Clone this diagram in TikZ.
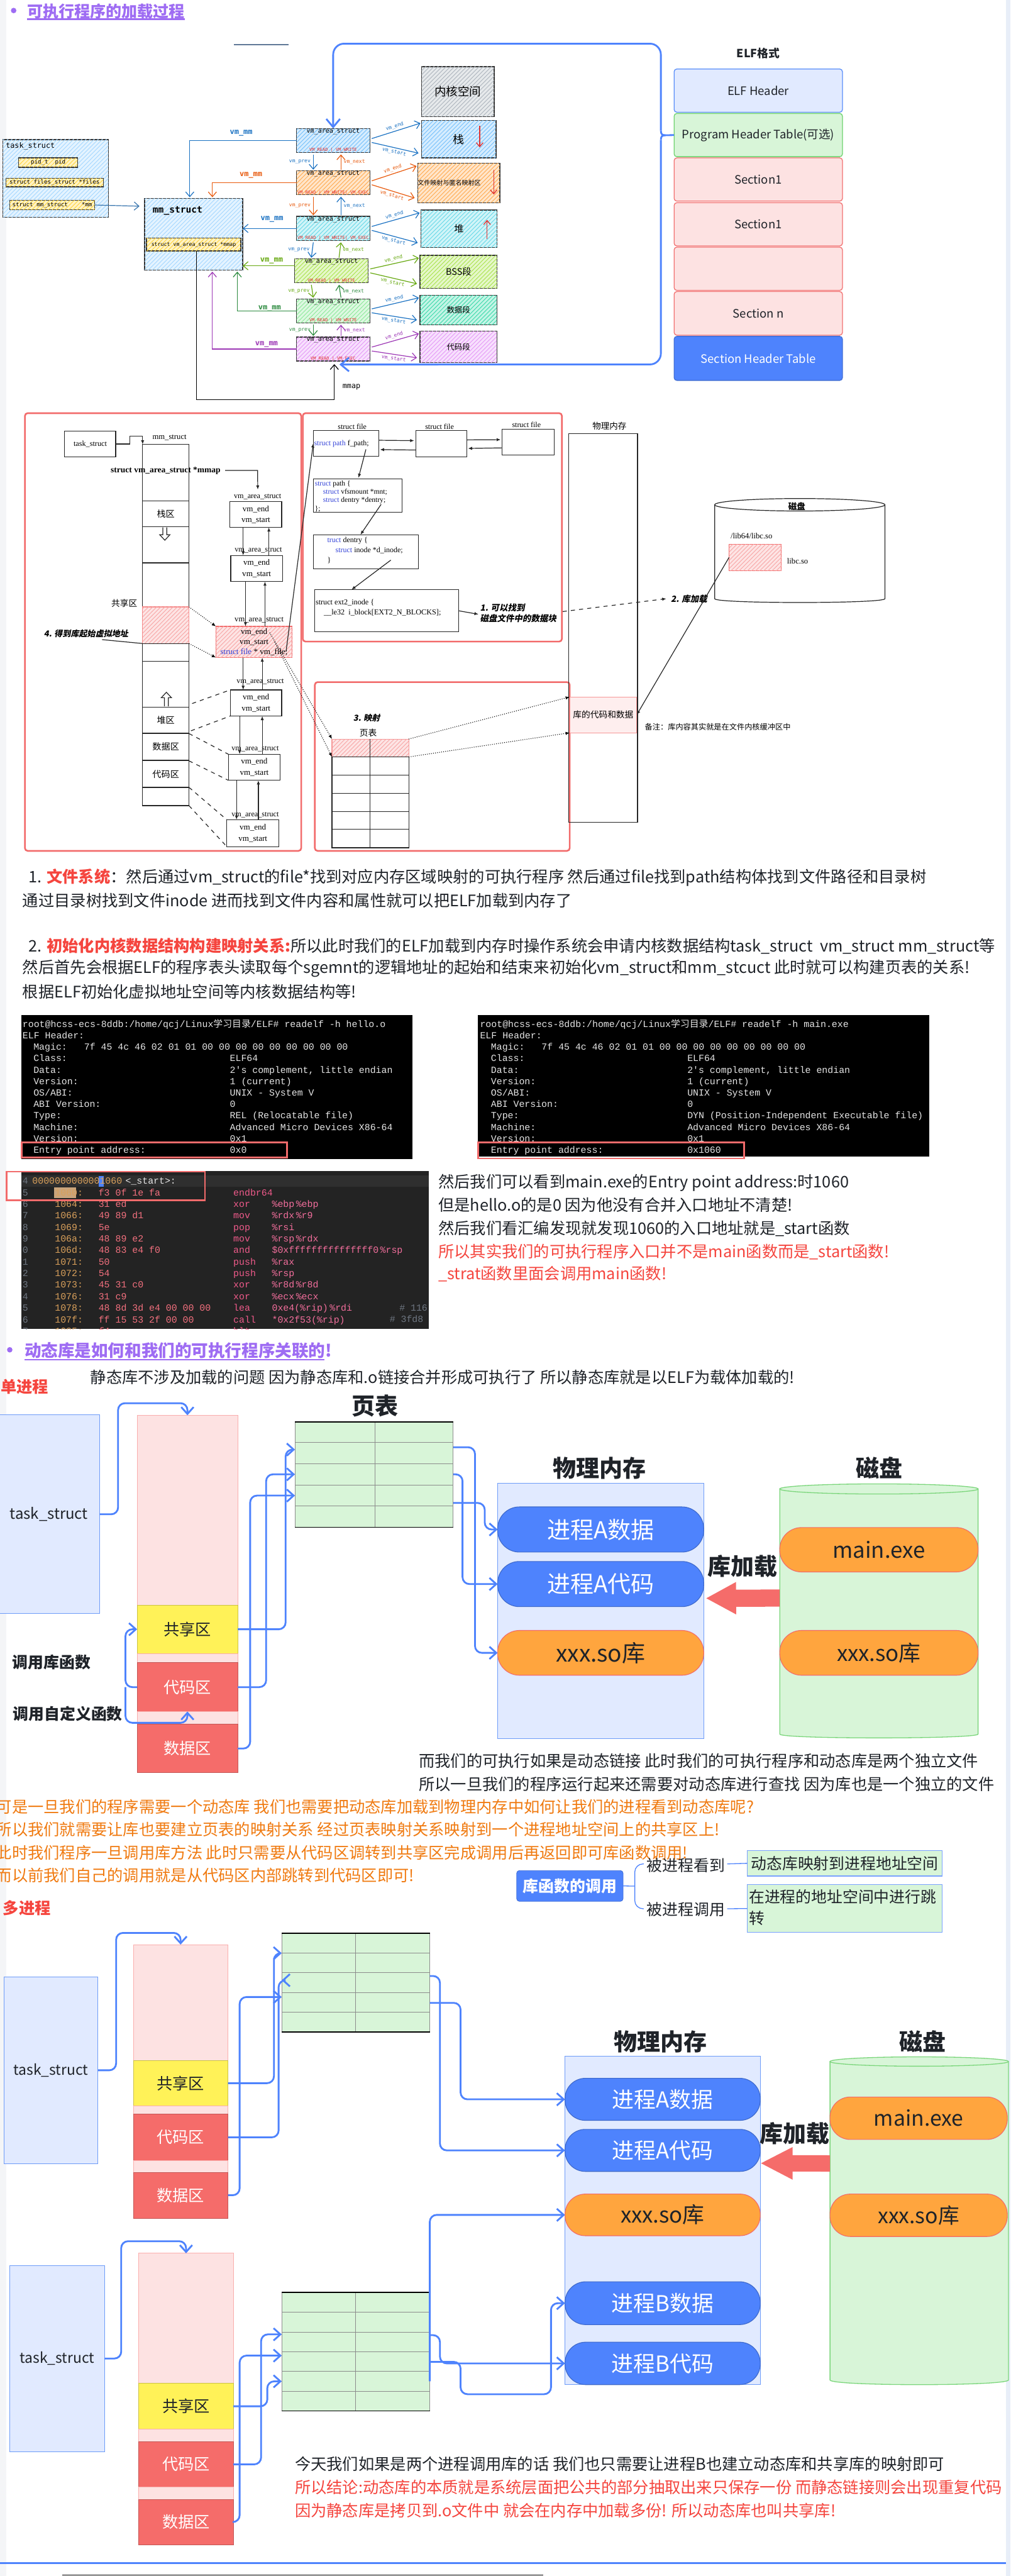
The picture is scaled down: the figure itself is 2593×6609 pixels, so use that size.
\documentclass[tikz,border=0pt]{standalone}
\usepackage{fontspec}
\setmainfont{Noto Sans CJK SC}
\newfontfamily\cjk{Noto Sans CJK SC}
\newfontfamily\cjksl[FakeSlant=0.18]{Noto Sans CJK SC}
\newfontfamily\xmono{DejaVu Sans Mono}
\newfontfamily\tmono{Liberation Mono}
\newfontfamily\hser{Liberation Serif}
\usetikzlibrary{arrows.meta,patterns,calc}
\newcommand\fs[2]{\fontsize{#1}{#2}\selectfont}
\newcommand\mybox[7]{\node[align=center,#6, minimum width={(#4-#2)*0.1mm}, minimum height={(#5-#3)*0.1mm}, inner sep=0pt, outer sep=0pt] (#1) at ({(#2+#4)/2},{(#3+#5)/2}) {#7};}
\definecolor{tpurple}{HTML}{9E6CF3}
\definecolor{lblue}{HTML}{4E83FD}
\definecolor{rframe}{HTML}{F26B6B}
\definecolor{cardbg}{HTML}{E1EAFF}
\definecolor{cardbd}{HTML}{6E9CF8}
\definecolor{pinkbg}{HTML}{FDE2E2}
\definecolor{redbg}{HTML}{F56C6A}
\definecolor{yelbg}{HTML}{FFF258}
\definecolor{grnbg}{HTML}{D8F5D8}
\definecolor{grnbd}{HTML}{7CD67C}
\definecolor{orgbg}{HTML}{FFA53E}
\definecolor{orgtx}{HTML}{F07A10}
\definecolor{redtx}{HTML}{F5453E}
\definecolor{txt}{HTML}{1F2329}
\definecolor{exblue}{HTML}{1971C2}
\definecolor{exorange}{HTML}{E8590C}
\definecolor{exgreen}{HTML}{66A80F}
\definecolor{exteal}{HTML}{2B8A3E}
\definecolor{expurple}{HTML}{9C36B5}
\definecolor{exred}{HTML}{E03131}
\definecolor{fblue}{HTML}{74C0FC}
\definecolor{fblue2}{HTML}{A5D8FF}
\definecolor{forange}{HTML}{FFA94D}
\definecolor{fcyan}{HTML}{66D9E8}
\definecolor{flime}{HTML}{A9E34B}
\definecolor{fgreen}{HTML}{8CE99A}
\definecolor{fteal}{HTML}{38D9A9}
\definecolor{fpink}{HTML}{E599F7}
\definecolor{fgray}{HTML}{ADB5BD}
\definecolor{fyel}{HTML}{FFD43B}
\definecolor{fpinkh}{HTML}{F8A5A5}
\definecolor{elfbg}{HTML}{E1EAFF}
\definecolor{elfbd}{HTML}{5B8FF9}
\definecolor{phtbg}{HTML}{D8F5D8}
\definecolor{phtbd}{HTML}{6FD36F}
\definecolor{secbg}{HTML}{FDE2E2}
\definecolor{secbd}{HTML}{F27272}
\definecolor{sblue}{HTML}{3443D8}
\definecolor{termfg}{HTML}{E6E6E6}
\definecolor{disbg}{HTML}{232323}
\definecolor{dishl}{HTML}{2F2F2F}
\definecolor{dgray}{HTML}{6E7681}
\definecolor{daddr}{HTML}{D9A05B}
\definecolor{dbyte}{HTML}{F2707E}
\definecolor{dmnem}{HTML}{EE5A8A}
\definecolor{dop}{HTML}{F26E9C}
\definecolor{tanhl}{HTML}{C9A47C}
\definecolor{pagegray}{HTML}{F4F5F7}
\definecolor{pageblue}{HTML}{E8EEF8}
\definecolor{steel}{HTML}{5F7896}
\newcommand\tline[3]{\node[anchor=base west, font=\tmono\fs{6.83}{8}, text=termfg] at (#1,#2) {#3};}
\newcommand\dl[4]{\node[anchor=base west, font=\tmono\fs{6.83}{8}, text=#3] at (#1,#2) {#4};}
\begin{document}
\begin{tikzpicture}[x=0.1mm,y=-0.1mm,
 every node/.style={inner sep=0pt, outer sep=0pt},
 hatch/.style={fill=#1!30, postaction={pattern=north east lines, pattern color=#1}},
 exbox/.style={draw=black!80, line width=0.6pt},
 exl/.style={line width=0.55pt},
 exarr/.style={-{Straight Barb[length=3.5pt,width=6pt]}},
 sk/.style={draw=black!85, line width=0.55pt},
 smarr/.style={-{Latex[length=3pt,width=2.4pt]}},
 card/.style={draw=cardbd, fill=cardbg, line width=0.5pt},
 blc/.style={draw=lblue, line width=1.3pt, rounded corners=5pt, -{Straight Barb[length=5pt,width=9pt]}},
 body/.style={anchor=west, font=\fs{11.6}{14}, text=txt},
 ptr/.style={fill=grnbg, draw=black!45, line width=0.4pt},
 colp/.style={fill=pinkbg, draw=redbg!55, line width=0.4pt},
 colr/.style={fill=redbg, draw=redbg!80!black, line width=0.4pt, text=white, font=\fs{11.6}{14}},
 coly/.style={fill=yelbg, draw=yelbg!80!black, line width=0.4pt, text=txt, font=\fs{11.6}{14}},
 stadb/.style={fill=lblue, draw=lblue!80!black, line width=0.5pt, text=white},
 stado/.style={fill=orgbg, draw=rframe, line width=0.5pt, text=txt},
 bigt/.style={font=\bfseries\fs{17}{20}, text=txt}
]
\useasboundingbox (0,0) rectangle (2593,6609);
\fill[white] (0,0) rectangle (2593,6609);
\fill[pagegray] (0,0) rectangle (16,6609);
\fill[pageblue] (2582,0) rectangle (2593,6609);

%%%%%%%%%%%%%%%% SECTION 1
\fill[tpurple] (35,27) circle[radius=7];
\node[anchor=west, text=tpurple, font=\bfseries\fs{11.5}{13}] (h1) at (70,29) {可执行程序的加载过程};
\draw[tpurple, line width=1.1pt] (70,49) -- (474,49);
\draw[steel, line width=0.8pt] (601,115) -- (740,115);

% ELF
\node[font=\bfseries\fs{8.2}{10}, text=txt] (elft) at (1946,137) {ELF格式};
\mybox{elf0}{1730}{177}{2162}{288}{draw=elfbd, fill=elfbg, rounded corners=2pt, line width=0.6pt, font=\fs{8.5}{10}, text=txt}{ELF Header}
\mybox{elf1}{1730}{291}{2162}{402}{draw=phtbd, fill=phtbg, rounded corners=2pt, line width=0.6pt, font=\fs{8.5}{10}, text=txt}{Program Header Table(可选)}
\mybox{elf2}{1730}{405}{2162}{516}{draw=secbd, fill=secbg, rounded corners=2pt, line width=0.6pt, font=\fs{8.5}{10}, text=txt}{Section1}
\mybox{elf3}{1730}{520}{2162}{631}{draw=secbd, fill=secbg, rounded corners=2pt, line width=0.6pt, font=\fs{8.5}{10}, text=txt}{Section1}
\mybox{elf4}{1730}{634}{2162}{745}{draw=secbd, fill=secbg, rounded corners=2pt, line width=0.6pt}{}
\mybox{elf5}{1730}{748}{2162}{860}{draw=secbd, fill=secbg, rounded corners=2pt, line width=0.6pt, font=\fs{8.5}{10}, text=txt}{Section n}
\mybox{elf6}{1730}{863}{2162}{976}{draw=lblue!85!black, fill=lblue, rounded corners=2pt, line width=0.6pt, font=\fs{8.5}{10}, text=white}{Section Header Table}

% task_struct
\mybox{tsk}{7}{358}{278}{557}{exbox, hatch=fblue2}{}
\node[anchor=west, font=\xmono\fs{5.4}{6}] (tskt) at (15,375) {task\_struct};
\mybox{tpid}{48}{405}{199}{429}{exbox, hatch=fyel, font=\xmono\fs{4.2}{5}}{pid\_t\ \ pid}
\mybox{tfil}{15}{457}{265}{479}{exbox, hatch=fyel, font=\xmono\fs{4.2}{5}}{struct files\_struct *files}
\mybox{tmm}{25}{514}{243}{538}{exbox, hatch=fyel, font=\xmono\fs{4.2}{5}}{struct mm\_struct\ \ \ \ *mm}
% mm_struct
\mybox{mmS}{371}{509}{623}{693}{exbox, hatch=fblue2}{}
\node[anchor=west, font=\xmono\bfseries\fs{6.7}{7}] (mmt) at (392,541) {mm\_struct};
\mybox{mmp}{376}{611}{618}{644}{exbox, hatch=fyel, font=\xmono\fs{3.8}{4.5}}{struct vm\_area\_struct *mmap}
\draw[exblue!70!gray, exl, exarr] (tmm.east) -- ($(mmS.north west)+(-13,20)$);

% vm_area boxes
\newcommand\vmt[1]{{\xmono\fs{4.6}{6}vm\_area\_struct}\\[1.5pt]{\xmono\fs{3.2}{4}\color{exred}#1}}
\mybox{va1}{761}{331}{949}{390}{exbox, hatch=fblue}{\vmt{VM\_READ | VM\_WRITE}}
\mybox{va2}{761}{439}{949}{499}{exbox, hatch=forange}{\vmt{VM\_READ | VM\_WRITE| VM\_EXEC}}
\mybox{va3}{761}{556}{949}{616}{exbox, hatch=fcyan}{\vmt{VM\_READ | VM\_WRITE| VM\_EXEC}}
\mybox{va4}{756}{665}{945}{725}{exbox, hatch=flime}{\vmt{VM\_READ | VM\_WRITE}}
\mybox{va5}{761}{768}{949}{827}{exbox, hatch=fgreen}{\vmt{VM\_READ | VM\_WRITE}}
\mybox{va6}{761}{865}{949}{926}{exbox, hatch=fpink}{\vmt{VM\_READ | VM\_EXEC}}
% segments
\mybox{seg0}{1082}{171}{1268}{299}{exbox, hatch=fgray, font=\cjk\fs{8.5}{10}}{内核空间}
\mybox{seg1}{1082}{309}{1273}{405}{exbox, hatch=fblue, font=\cjk\fs{8.2}{10}}{栈}
\mybox{seg2}{1078}{419}{1277}{520}{exbox, hatch=forange, font=\cjk\fs{4.6}{6}}{文件映射与匿名映射区\hspace{14pt}}
\mybox{seg3}{1080}{539}{1276}{635}{exbox, hatch=fcyan, font=\cjk\fs{7}{8}}{堆}
\mybox{seg4}{1078}{655}{1276}{740}{exbox, hatch=flime, font=\cjk\fs{6.6}{8}}{BSS段}
\mybox{seg5}{1078}{757}{1275}{833}{exbox, hatch=fteal, font=\cjk\fs{5.7}{7}}{数据段}
\mybox{seg6}{1078}{849}{1275}{930}{exbox, hatch=fpink, font=\cjk\fs{5.7}{7}}{代码段}
\draw[exred, line width=0.6pt, -{Straight Barb[length=3pt,width=5pt]}] (1231,322) -- (1231,378);
\draw[exred, line width=0.6pt, -{Straight Barb[length=3pt,width=5pt]}] (1267,435) -- (1267,499);
\draw[exred, line width=0.6pt, -{Straight Barb[length=3pt,width=5pt]}] (1250,613) -- (1250,564);

\foreach \i/\c in {1/exblue,2/exorange,3/exblue,4/exgreen,5/exblue,6/expurple}{
 \draw[\c, exl, exarr] ($(va\i.east)+(5,-5)$) -- ($(seg\i.north west)+(-3,7)$) node[midway, sloped, above=1.5pt, font=\xmono\fs{3.7}{4}, text=\c] {vm\_end};
 \draw[\c, exl, exarr] ($(va\i.east)+(5,5)$) -- ($(seg\i.south west)+(-8,-12)$) node[midway, sloped, below=1.5pt, font=\xmono\fs{3.7}{4}, text=\c] {vm\_start};
}
\foreach \i/\j/\p/\n in {1/2/exblue/exorange,2/3/exorange/exblue,3/4/exblue/exgreen,4/5/exgreen/exteal,5/6/exteal/expurple}{
 \draw[\p, exl, exarr] ($(va\i.south west)+(43,5)$) -- ($(va\j.north west)+(43,-3)$) node[midway, left=2pt, font=\xmono\fs{3.7}{4}, text=\p] {vm\_prev};
 \draw[\n, exl, exarr] ($(va\j.north west)+(114,-3)$) -- ($(va\i.south west)+(114,5)$) node[midway, right=2pt, font=\xmono\fs{3.7}{4}, text=\n] {vm\_next};
}
% vm_mm
\draw[exblue, exl, exarr] (va1.west) -| ($(mmS.north west)+(116,-3)$);
\node[font=\xmono\bfseries\fs{5.5}{6}, text=exblue] (vmm1) at (619,342) {vm\_mm};
\draw[exorange, exl, exarr] (va2.west) -| ($(mmS.north west)+(174,-3)$);
\node[font=\xmono\bfseries\fs{5.5}{6}, text=exorange] (vmm2) at (644,449) {vm\_mm};
\draw[exblue, exl, exarr] (va3.west) -- (va3.west -| mmS.east);
\node[font=\xmono\bfseries\fs{5.5}{6}, text=exblue] (vmm3) at (698,563) {vm\_mm};
\coordinate (v4w) at ($(va4.west)+(0,-13)$);
\draw[exgreen, exl, exarr] (v4w) -- (v4w -| mmS.east);
\node[font=\xmono\bfseries\fs{5.5}{6}, text=exgreen] (vmm4) at (697,669) {vm\_mm};
\draw[exteal, exl, exarr] (va5.west) -| ($(mmS.south west)+(238,4)$);
\node[font=\xmono\bfseries\fs{5.5}{6}, text=exteal] (vmm5) at (692,791) {vm\_mm};
\draw[expurple, exl, exarr] (va6.west) -| ($(mmS.south west)+(174,4)$);
\node[font=\xmono\bfseries\fs{5.5}{6}, text=expurple] (vmm6) at (684,884) {vm\_mm};
% mmap
\draw[black, exl, exarr] ($(mmp.south)+(7,0)$) |- ($(va6.south)+(3,99)$) -- ($(va6.south)+(3,8)$);
\node[font=\xmono\fs{5.4}{6}] (mmapl) at (902,993) {mmap};
% big blue bracket
\draw[lblue, line width=1.3pt, rounded corners=8pt, -{Straight Barb[length=6pt,width=10pt]}] (1696,335) -- (1696,112) -- (855,112) -- (va1.north);
\draw[lblue, line width=1.3pt, rounded corners=8pt, -{Straight Barb[length=6pt,width=10pt]}] (1696,359) -- (1696,935) -- ($(va6.south)+(16,9)$);
\draw[lblue, line width=1.3pt] (1696,335) .. controls (1696,344) and (1699,347) .. (1708,347) -- (elf1.west);
\draw[lblue, line width=1.3pt] (1696,359) .. controls (1696,350) and (1699,347) .. (1708,347);

%%%%%%%%%%%%%%%% SECTION 2
\draw[rframe, line width=1.2pt, rounded corners=2pt] (64,1060) rectangle (773,2183);
\draw[rframe, line width=1.2pt, rounded corners=2pt] (777,1060) rectangle (1442,1646);
\draw[rframe, line width=1.2pt, rounded corners=2pt] (808,1750) rectangle (1462,2183);

\mybox{tsk2}{166}{1106}{297}{1172}{sk, font=\hser\fs{5.6}{6}}{task\_struct}
\node[font=\hser\fs{5.8}{7}] (mml) at (435,1123) {mm\_struct};
\mybox{col0}{366}{1140}{485}{1285}{sk}{}
\mybox{col1}{366}{1285}{485}{1351}{sk, font=\cjk\fs{6.5}{7}}{栈区}
\mybox{col2}{366}{1351}{485}{1444}{sk}{}
\mybox{col3}{366}{1444}{485}{1557}{sk}{}
\mybox{col4}{366}{1557}{485}{1651}{draw=rframe!80, line width=0.5pt, hatch=fpinkh}{}
\mybox{col5}{366}{1651}{485}{1696}{sk}{}
\mybox{col6}{366}{1696}{485}{1814}{sk}{}
\mybox{col7}{366}{1814}{485}{1880}{sk, font=\cjk\fs{6.5}{7}}{堆区}
\mybox{col8}{366}{1882}{485}{1950}{sk, font=\cjk\fs{6.5}{7}}{数据区}
\mybox{col9}{366}{1952}{485}{2020}{sk, font=\cjk\fs{6.5}{7}}{代码区}
\mybox{col10}{366}{2020}{485}{2067}{sk}{}
\draw[sk, smarr] (tsk2.east) -- (333,1139) -- (333,1119) -- (366,1119) -- (col0.north west);
\node[font=\bfseries\hser\fs{6.2}{7}] (mmtxt) at (425,1207) {struct vm\_area\_struct *mmap};
\draw[sk, fill=white] (418,1353) -- (418,1372) -- (410,1372) -- (423,1386) -- (436,1372) -- (428,1372) -- (428,1353);
\draw[sk, fill=white] (422,1812) -- (422,1790) -- (414,1790) -- (427,1776) -- (440,1790) -- (432,1790) -- (432,1812);
\node[font=\cjk\fs{6.3}{7}] (gxq) at (319,1548) {共享区};
\node[font=\cjksl\bfseries\fs{6}{7}] (lbl4) at (221,1626) {4. 得到库起始虚拟地址};
\coordinate (l4s) at (262,1641);
\draw[sk] (l4s) -- (col4.south west);

\mybox{vb1}{590}{1287}{723}{1353}{sk, font=\hser\fs{6}{8}}{vm\_end\\vm\_start}
\mybox{vb2}{592}{1425}{725}{1492}{sk, font=\hser\fs{6}{8}}{vm\_end\\vm\_start}
\mybox{vb3}{554}{1607}{750}{1687}{draw=rframe, line width=0.6pt, hatch=fpinkh, font=\hser\fs{6}{7.4}}{vm\_end\\vm\_start\\{\color{sblue}struct file} * vm\_file;}
\mybox{vb4}{591}{1770}{723}{1837}{sk, font=\hser\fs{6}{8}}{vm\_end\\vm\_start}
\mybox{vb5}{586}{1935}{719}{2002}{sk, font=\hser\fs{6}{8}}{vm\_end\\vm\_start}
\mybox{vb6}{582}{2103}{716}{2172}{sk, font=\hser\fs{6}{8}}{vm\_end\\vm\_start}
\node[font=\hser\fs{5.6}{6}] (vl1) at (661,1274) {vm\_area\_struct};
\node[font=\hser\fs{5.6}{6}] (vl2) at (663,1412) {vm\_area\_struct};
\node[font=\hser\fs{5.8}{6}] (vl3) at (665,1591) {vm\_area\_struct};
\node[font=\hser\fs{5.6}{6}] (vl4) at (668,1749) {vm\_area\_struct};
\node[font=\hser\fs{5.6}{6}] (vl5) at (655,1921) {vm\_area\_struct};
\node[font=\hser\fs{5.6}{6}] (vl6) at (655,2091) {vm\_area\_struct};
\draw[sk, smarr] (mmtxt.east) ++(12,0) coordinate (mmo) -- (661,1207) -- ($(vb1.north)+(5,-31)$);
\draw[sk, smarr] ($(vb1.south west)+(34,0)$) -- ($(vb2.north west)+(32,0)$);
\draw[sk, smarr] ($(vb2.north west)+(98,0)$) -- ($(vb1.south west)+(100,0)$);
\draw[sk, smarr] ($(vb2.south west)+(38,0)$) -- ($(vb3.north west)+(76,0)$);
\draw[sk, smarr] ($(vb3.north west)+(126,0)$) -- ($(vb2.south west)+(88,0)$);
\draw[sk, smarr] ($(vb3.south west)+(70,0)$) -- ($(vb4.north west)+(33,0)$);
\draw[sk, smarr] ($(vb4.north west)+(82,0)$) -- ($(vb3.south west)+(119,0)$);
\draw[sk, smarr] ($(vb4.south west)+(24,0)$) -- ($(vb5.north west)+(29,0)$);
\draw[sk, smarr] ($(vb5.north west)+(87,0)$) -- ($(vb4.south west)+(82,0)$);
\draw[sk, smarr] ($(vb5.south west)+(21,0)$) -- ($(vb6.north west)+(25,0)$);
\draw[sk, smarr] ($(vb6.north west)+(81,0)$) -- ($(vb5.south west)+(77,0)$);
\draw[black, line width=0.5pt, densely dotted, smarr] (col4.north east) -- (vb3.north west);
\draw[black, line width=0.5pt, densely dotted, smarr] (col4.south east) -- (vb3.south west);
\draw[sk, dashed] ($(col7.north east)+(8,-9)$) -- (vb4.north west);
\draw[sk, dashed] ($(col7.south east)+(5,-5)$) -- (vb4.south west);
\draw[sk, dashed] (col8.north east) -- (vb5.north west);
\draw[sk, dashed] (col9.north east) -- (vb5.south west);
\draw[sk, dashed] (col10.north east) -- (vb6.north west);
\draw[sk, dashed] (col10.south east) -- (vb6.south west);

% struct file chain
\mybox{sf1}{804}{1105}{972}{1170}{sk}{}
\mybox{sf2}{1067}{1105}{1198}{1172}{sk}{}
\mybox{sf3}{1289}{1101}{1422}{1167}{sk}{}
\node[font=\hser\fs{5.5}{6}] (sfl1) at (904,1094) {struct file};
\node[font=\hser\fs{5.5}{6}] (sfl2) at (1128,1094) {struct file};
\node[font=\hser\fs{5.5}{6}] (sfl3) at (1351,1090) {struct file};
\node[anchor=west, font=\hser\fs{5.5}{6}] (fpath) at (806,1138) {{\color{sblue}struct path} f\_path;};
\draw[sk, smarr] ($(sf1.east)+(0,-8)$) -- ($(sf2.west)+(-4,-8)$);
\draw[sk, smarr] ($(sf2.west)+(0,16)$) -- ($(sf1.east)+(3,16)$);
\draw[sk, smarr] ($(sf2.east)+(0,-10)$) -- ($(sf3.west)+(-4,-6)$);
\draw[sk, smarr] ($(sf3.west)+(0,15)$) -- ($(sf2.east)+(3,12)$);
\mybox{spath}{804}{1229}{1032}{1314}{sk}{}
\node[anchor=north west, align=left, font=\hser\fs{5.3}{6}] (spt) at (808,1234) {{\color{sblue}struct} path \{\\\hspace*{6pt}{\color{sblue}struct} vfsmount *mnt;\\\hspace*{6pt}{\color{sblue}struct} dentry *dentry;\\\};};
\draw[sk, smarr] (939,1153) -- ($(spath.north)+(2,-3)$);
\mybox{dent}{804}{1372}{1074}{1459}{sk}{}
\node[anchor=north west, align=left, font=\hser\fs{5.5}{7.3}] (dtt) at (840,1378) {{\color{sblue}truct} dentry \{\\\hspace*{6pt}{\color{sblue}struct} inode *d\_inode;\\\}};
\draw[sk, smarr] ($(spath.south)+(60,-20)$) -- ($(dent.north)+(-14,0)$);
\mybox{ext2}{807}{1513}{1177}{1621}{sk}{}
\node[anchor=north west, align=left, font=\hser\fs{5.6}{7.5}] (ext) at (810,1537) {struct ext2\_inode \{\\\hspace*{6pt}\_\_le32\ \ i\_block[EXT2\_N\_BLOCKS];};
\draw[sk, smarr] ($(dent.south)+(64,-22)$) -- ($(ext2.north)+(-90,0)$);
\node[anchor=west, align=left, font=\cjksl\bfseries\fs{6.2}{7.6}] (lbl1) at (1232,1573) {1. 可以找到\\磁盘文件中的数据块};
\draw[sk, smarr] (ext2.east) -- ($(lbl1.west)+(-4,3)$);
\node[anchor=west, font=\cjksl\bfseries\fs{6.2}{7}] (lbl2) at (1722,1536) {2. 库加载};
\draw[sk, dashed, smarr] ($(lbl1.east)+(16,-4)$) -- ($(lbl2.west)+(-12,0)$);

% physical memory column
\mybox{pm}{1459}{1113}{1636}{2110}{sk}{}
\node[font=\cjk\fs{6.2}{7}] (pml) at (1564,1093) {物理内存};
\mybox{lib}{1462}{1788}{1634}{1880}{draw=rframe!70, fill=pinkbg!60, line width=0.5pt, font=\cjk\fs{6.3}{7}}{库的代码和数据}
\node[anchor=west, font=\cjk\fs{5.6}{7}] (note) at (1655,1865) {备注：库内容其实就是在文件内核缓冲区中};
% disk
\draw[sk, fill=white] (1834,1295) -- (1834,1536) .. controls (1834,1549) and (2271,1549) .. (2271,1536) -- (2271,1295);
\draw[sk] (2052.5,1295) ellipse [x radius=218.5, y radius=16];
\node[font=\cjk\bfseries\fs{6.2}{7}] (dkl) at (2045,1300) {磁盘};
\node[anchor=west, font=\hser\fs{5.8}{7}] (libp) at (1875,1375) {/lib64/libc.so};
\mybox{libso}{1871}{1396}{2005}{1464}{draw=rframe, line width=0.5pt, hatch=fpinkh}{}
\node[anchor=west, font=\hser\fs{5.8}{7}] (libn) at (2020,1439) {libc.so};
\draw[sk, smarr] (libso.west) -- (lib.east);
% page table (3)
\node[font=\cjksl\bfseries\fs{6}{7}] (l3) at (941,1842) {3. 映射};
\node[font=\cjk\fs{6.3}{7}] (ptl) at (945,1881) {页表};
\mybox{g1}{852}{1896}{1049}{1942}{draw=rframe!70, line width=0.5pt, hatch=fpinkh}{}
\mybox{g2}{852}{1942}{1049}{1989}{sk}{}
\mybox{g3}{852}{1989}{1049}{2035}{sk}{}
\mybox{g4}{852}{2035}{1049}{2082}{sk}{}
\mybox{g5}{852}{2082}{1049}{2128}{sk}{}
\mybox{g6}{852}{2128}{1049}{2175}{sk}{}
\draw[sk] (949,1896) -- (949,2175);
\draw[black, line width=0.5pt, densely dotted, smarr] ($(vb3.north)+(40,16)$) -- (g1.north west);
\draw[black, line width=0.5pt, densely dotted, smarr] ($(vb3.north)+(53,40)$) -- (g1.south west);
\draw[black, line width=0.5pt, densely dotted, smarr] (g1.north east) -- (lib.north west);
\draw[black, line width=0.5pt, densely dotted, smarr] (g1.south east) -- (lib.south west);
\draw[sk, smarr] ($(vb3.south east)+(-16,-15)$) -- (sf1.west);

%%%%%%%%%%%%%%%% SECTION 3 text
\node[body] (p1) at (74,2252) {1. {\bfseries\color{redtx}文件系统}：然后通过vm\_struct的file*找到对应内存区域映射的可执行程序 然后通过file找到path结构体找到文件路径和目录树};
\node[body] (p2) at (58,2310) {通过目录树找到文件inode 进而找到文件内容和属性就可以把ELF加载到内存了};
\node[body] (p3) at (74,2427) {2. {\bfseries\color{redtx}初始化内核数据结构构建映射关系:}所以此时我们的ELF加载到内存时操作系统会申请内核数据结构task\_struct\ \ vm\_struct mm\_struct等};
\node[body] (p4) at (58,2485) {然后首先会根据ELF的程序表头读取每个sgemnt的逻辑地址的起始和结束来初始化vm\_struct和mm\_stcuct 此时就可以构建页表的关系!};
\node[body] (p5) at (58,2545) {根据ELF初始化虚拟地址空间等内核数据结构等!};

% terminals
\fill[black] (55,2604) rectangle (1058,2973);
\fill[black] (1227,2604) rectangle (2385,2968);
\tline{58}{2636}{root@hcss-ecs-8ddb:/home/qcj/Linux{\cjk 学习目录}/ELF\# readelf -h hello.o}
\tline{58}{2665}{ELF Header:}
\tline{86}{2694}{Magic:}
\tline{216}{2694}{7f 45 4c 46 02 01 01 00 00 00 00 00 00 00 00 00}
\tline{86}{2723}{Class:}\tline{590}{2723}{ELF64}
\tline{86}{2753}{Data:}\tline{590}{2753}{2's complement, little endian}
\tline{86}{2782}{Version:}\tline{590}{2782}{1 (current)}
\tline{86}{2812}{OS/ABI:}\tline{590}{2812}{UNIX - System V}
\tline{86}{2841}{ABI Version:}\tline{590}{2841}{0}
\tline{86}{2870}{Type:}\tline{590}{2870}{REL (Relocatable file)}
\tline{86}{2900}{Machine:}\tline{590}{2900}{Advanced Micro Devices X86-64}
\tline{86}{2929}{Version:}\tline{590}{2929}{0x1}
\tline{86}{2959}{Entry point address:}\tline{590}{2959}{0x0}
\draw[rframe, line width=1.3pt] (55,2931) rectangle (736,2970);
\tline{1232}{2636}{root@hcss-ecs-8ddb:/home/qcj/Linux{\cjk 学习目录}/ELF\# readelf -h main.exe}
\tline{1232}{2665}{ELF Header:}
\tline{1260}{2694}{Magic:}
\tline{1390}{2694}{7f 45 4c 46 02 01 01 00 00 00 00 00 00 00 00 00}
\tline{1260}{2723}{Class:}\tline{1764}{2723}{ELF64}
\tline{1260}{2753}{Data:}\tline{1764}{2753}{2's complement, little endian}
\tline{1260}{2782}{Version:}\tline{1764}{2782}{1 (current)}
\tline{1260}{2812}{OS/ABI:}\tline{1764}{2812}{UNIX - System V}
\tline{1260}{2841}{ABI Version:}\tline{1764}{2841}{0}
\tline{1260}{2870}{Type:}\tline{1764}{2870}{DYN (Position-Independent Executable file)}
\tline{1260}{2900}{Machine:}\tline{1764}{2900}{Advanced Micro Devices X86-64}
\tline{1260}{2929}{Version:}\tline{1764}{2929}{0x1}
\tline{1260}{2959}{Entry point address:}\tline{1764}{2959}{0x1060}
\draw[rframe, line width=1.3pt] (1227,2931) rectangle (1910,2972);

% disassembly
\fill[disbg] (55,3005) rectangle (1100,3410);
\fill[dishl] (55,3016) rectangle (1100,3044);
\begin{scope}
\clip (55,3005) rectangle (1100,3410);
\fill[tanhl] (139,3046) rectangle (195,3073);
\fill[lblue] (253,3017) rectangle (266,3044);
\dl{58}{3038}{dgray}{4}
\dl{83}{3038}{daddr}{0000000000001060}
\dl{322}{3038}{termfg}{<\_start>:}
\foreach \k/\n/\a/\b/\m/\o in {1/5/1060:/f3 0f 1e fa/endbr64/, 2/6/1064:/31 ed/xor/\%ebp\,\%ebp, 3/7/1066:/49 89 d1/mov/\%rdx\,\%r9, 4/8/1069:/5e/pop/\%rsi, 5/9/106a:/48 89 e2/mov/\%rsp\,\%rdx, 6/0/106d:/48 83 e4 f0/and/\$0xfffffffffffffff0\,\%rsp, 7/1/1071:/50/push/\%rax, 8/2/1072:/54/push/\%rsp, 9/3/1073:/45 31 c0/xor/\%r8d\,\%r8d, 10/4/1076:/31 c9/xor/\%ecx\,\%ecx, 11/5/1078:/48 8d 3d e4 00 00 00/lea/0xe4(\%rip)\,\%rdi, 12/6/107f:/ff 15 53 2f 00 00/call/*0x2f53(\%rip), 13/7/1085:/f4/hlt/}{
 \pgfmathsetmacro\yy{3038+29.6*\k}
 \dl{58}{\yy}{dgray}{\n}
 \dl{141}{\yy}{daddr}{\a}
 \dl{253}{\yy}{dbyte}{\b}
 \dl{599}{\yy}{dmnem}{\m}
 \dl{698}{\yy}{dop}{\o}
}
\dl{1025}{3363}{dgray}{\# 116}
\dl{1000}{3393}{dgray}{\# 3fd8}
\end{scope}
\draw[rframe, line width=1.3pt] (17,3006) rectangle (526,3079);

\node[body] (q1) at (1125,3034) {然后我们可以看到main.exe的Entry point address:时1060};
\node[body] (q2) at (1125,3092) {但是hello.o的是0 因为他没有合并入口地址不清楚!};
\node[body] (q3) at (1125,3152) {然后我们看汇编发现就发现1060的入口地址就是\_start函数};
\node[body, text=redtx] (q4) at (1125,3211) {所以其实我们的可执行程序入口并不是main函数而是\_start函数!};
\node[body, text=redtx] (q5) at (1125,3269) {\_strat函数里面会调用main函数!};

%%%%%%%%%%%%%%%% SECTION 4
\fill[tpurple] (25,3463) circle[radius=7];
\node[anchor=west, text=tpurple, font=\bfseries\fs{12.2}{14}] (h2) at (63,3465) {动态库是如何和我们的可执行程序关联的!};
\draw[tpurple, line width=1.1pt] (63,3488) -- (832,3488);
\node[body] (s1) at (232,3533) {静态库不涉及加载的问题 因为静态库和.o链接合并形成可执行了 所以静态库就是以ELF为载体加载的!};
\node[anchor=west, text=redtx, font=\bfseries\fs{11.6}{14}] (dan) at (2,3558) {单进程};

% single process
\mybox{ts1}{-5}{3630}{256}{4140}{card, font=\fs{11}{13}, text=txt}{task\_struct}
\mybox{a1p}{352}{3631}{610}{4118}{colp}{}
\mybox{a1s}{352}{4118}{610}{4242}{coly}{共享区}
\mybox{a1g1}{352}{4242}{610}{4266}{colp}{}
\mybox{a1c}{352}{4266}{610}{4391}{colr}{代码区}
\mybox{a1g2}{352}{4391}{610}{4424}{colp}{}
\mybox{a1d}{352}{4424}{610}{4548}{colr}{数据区}
\node[bigt] (pt1l) at (962,3607) {页表};
\mybox{p1r1}{757}{3648}{1163}{3701}{ptr}{}
\mybox{p1r2}{757}{3701}{1163}{3755}{ptr}{}
\mybox{p1r3}{757}{3755}{1163}{3810}{ptr}{}
\mybox{p1r4}{757}{3810}{1163}{3864}{ptr}{}
\mybox{p1r5}{757}{3864}{1163}{3918}{ptr}{}
\draw[black!45, line width=0.4pt] (962,3648) -- (962,3918);
\draw[black, line width=0.6pt] (757,3648) -- (1163,3648);
\draw[black, line width=0.6pt] (757,3918) -- (1163,3918);
\node[bigt] (pm1l) at (1538,3767) {物理内存};
\mybox{pm1}{1277}{3806}{1806}{4461}{card}{}
\mybox{pa1}{1277}{3866}{1806}{3982}{stadb, rounded corners=5.6mm, font=\fs{17}{20}}{进程A数据}
\mybox{pa2}{1277}{4006}{1806}{4122}{stadb, rounded corners=5.6mm, font=\fs{17}{20}}{进程A代码}
\mybox{so1}{1277}{4183}{1806}{4298}{stado, rounded corners=5.6mm, font=\fs{17}{20}}{xxx.so库}
\node[bigt] (dk1l) at (2257,3766) {磁盘};
\fill[grnbg] (2001,3820) -- (2001,4449) .. controls (2001,4462) and (2510,4462) .. (2510,4449) -- (2510,3820) -- cycle;
\draw[grnbd, line width=0.6pt] (2001,3820) -- (2001,4449) .. controls (2001,4462) and (2510,4462) .. (2510,4449) -- (2510,3820);
\draw[grnbd, line width=0.6pt, fill=grnbg] (2255.5,3820) ellipse [x radius=254.5, y radius=13];
\mybox{dk1}{2001}{3833}{2510}{4449}{}{}
\mybox{me1}{2001}{3919}{2510}{4033}{stado, rounded corners=5.6mm, font=\fs{16}{19}}{main.exe}
\mybox{ds1}{2001}{4183}{2510}{4298}{stado, rounded corners=5.6mm, font=\fs{16}{19}}{xxx.so库}
\node[bigt] (ll1) at (1905,4019) {库加载};
\draw[redbg, line width=4.4mm, -{Triangle[length=7.8mm,width=7.7mm]}] ($(dk1.west)+(0,-41)$) -- ($(pm1.east)+(5,-33)$);
\draw[blc] (ts1.east) -- ++(47,0) |- ($(a1p.north)+(0,-31)$) -- (a1p.north);
\draw[blc] (a1s.east) -- ++(123,0) |- ($(p1r2.west)+(0,-9)$);
\draw[blc] (a1c.east) -- ++(73,0) |- (p1r3.west);
\draw[blc] (a1d.east) -- ++(32,0) |- (p1r4.west);
\draw[blc] ($(p1r2.east)+(0,-15)$) -- ++(56,0) |- (so1.west);
\draw[blc] (p1r3.east) -- ++(24,0) |- (pa2.west);
\draw[blc] ($(p1r4.east)+(0,19)$) -- ++(81,0) |- (pa1.west);
\draw[blc] (a1c.west) -- ++(-30,0) |- (a1s.west);
\draw[blc] ($(a1c.west)+(-30,0)$) |- ($(a1c.south)+(0,29)$) -- (a1c.south);
\node[font=\bfseries\fs{11.4}{13}, text=txt] (cl1) at (132,4264) {调用库函数};
\node[font=\bfseries\fs{11.4}{13}, text=txt] (cl2) at (174,4397) {调用自定义函数};
\node[body] (t1) at (1075,4517) {而我们的可执行如果是动态链接 此时我们的可执行程序和动态库是两个独立文件};
\node[body] (t2) at (1075,4577) {所以一旦我们的程序运行起来还需要对动态库进行查找 因为库也是一个独立的文件};
\node[body, text=orgtx] (o1) at (-10,4635) {可是一旦我们的程序需要一个动态库 我们也需要把动态库加载到物理内存中如何让我们的进程看到动态库呢?};
\node[body, text=orgtx] (o2) at (-10,4693) {所以我们就需要让库也要建立页表的映射关系 经过页表映射关系映射到一个进程地址空间上的共享区上!};
\node[body, text=orgtx] (o3) at (-10,4753) {此时我们程序一旦调用库方法 此时只需要从代码区调转到共享区完成调用后再返回即可库函数调用!};
\node[body, text=orgtx] (o4) at (-10,4812) {而以前我们自己的调用就是从代码区内部跳转到代码区即可!};
% mind map
\mybox{mm0}{1326}{4799}{1599}{4878}{fill=lblue, draw=lblue!85!black, rounded corners=2pt, text=white, font=\bfseries\fs{11.4}{13}}{库函数的调用}
\mybox{mb1}{1918}{4748}{2418}{4813}{fill=grnbg, draw=lblue!75, line width=0.6pt, font=\fs{11.4}{13}, text=txt}{动态库映射到进程地址空间}
\mybox{mb2}{1918}{4835}{2418}{4958}{fill=grnbg, draw=lblue!75, line width=0.6pt}{}
\node[anchor=north west, align=left, font=\fs{11.4}{15.6}, text=txt] (mb2t) at (1922,4848) {在进程的地址空间中进行跳\\转};
\node[anchor=west, font=\fs{11.4}{13}, text=txt] (k1) at (1660,4785) {被进程看到};
\node[anchor=west, font=\fs{11.4}{13}, text=txt] (k2) at (1660,4898) {被进程调用};
\draw[lblue, line width=0.6pt] (mm0.east) -- (1629,4839);
\draw[lblue, line width=0.6pt, rounded corners=6pt] (1652,4782) -- (1629,4782) -- (1629,4897) -- (1652,4897);
\draw[lblue, line width=0.6pt] ($(k1.east)+(6,-3)$) -- (mb1.west);
\draw[lblue, line width=0.6pt] ($(k2.east)+(6,-1)$) -- (mb2.west);
\node[anchor=west, text=redtx, font=\bfseries\fs{11.6}{14}] (duo) at (8,4895) {多进程};

% multi process A
\mybox{tsA}{10}{5072}{251}{5551}{card, font=\fs{10.5}{13}, text=txt}{task\_struct}
\mybox{bAp}{342}{4989}{585}{5286}{colp}{}
\mybox{bAs}{342}{5286}{585}{5403}{coly}{共享区}
\mybox{bAg1}{342}{5403}{585}{5424}{colp}{}
\mybox{bAc}{342}{5424}{585}{5543}{colr}{代码区}
\mybox{bAg2}{342}{5543}{585}{5573}{colp}{}
\mybox{bAd}{342}{5573}{585}{5691}{colr}{数据区}
\mybox{qA1}{723}{4960}{1103}{5011}{ptr}{}
\mybox{qA2}{723}{5011}{1103}{5061}{ptr}{}
\mybox{qA3}{723}{5061}{1103}{5112}{ptr}{}
\mybox{qA4}{723}{5112}{1103}{5163}{ptr}{}
\mybox{qA5}{723}{5163}{1103}{5213}{ptr}{}
\draw[black!45, line width=0.4pt] (913,4960) -- (913,5213);
\draw[black, line width=0.6pt] (723,4960) -- (1103,4960);
\draw[black, line width=0.6pt] (723,5213) -- (1103,5213);
% multi process B
\mybox{tsB}{25}{5812}{268}{6290}{card, font=\fs{10.5}{13}, text=txt}{task\_struct}
\mybox{bBp}{356}{5781}{599}{6115}{colp}{}
\mybox{bBs}{356}{6115}{599}{6232}{coly}{共享区}
\mybox{bBg1}{356}{6232}{599}{6264}{colp}{}
\mybox{bBc}{356}{6264}{599}{6381}{colr}{代码区}
\mybox{bBg2}{356}{6381}{599}{6412}{colp}{}
\mybox{bBd}{356}{6412}{599}{6529}{colr}{数据区}
\mybox{qB1}{723}{5881}{1103}{5932}{ptr}{}
\mybox{qB2}{723}{5932}{1103}{5983}{ptr}{}
\mybox{qB3}{723}{5983}{1103}{6033}{ptr}{}
\mybox{qB4}{723}{6033}{1103}{6084}{ptr}{}
\mybox{qB5}{723}{6084}{1103}{6135}{ptr}{}
\mybox{qB6}{723}{6135}{1103}{6185}{ptr}{}
\draw[black!45, line width=0.4pt] (913,5881) -- (913,6185);
\draw[black, line width=0.6pt] (723,5881) -- (1103,5881);
\draw[black, line width=0.6pt] (723,6185) -- (1103,6185);
% memory and disk
\node[bigt] (pmAl) at (1695,5238) {物理内存};
\mybox{pmA}{1450}{5276}{1951}{6118}{card}{}
\mybox{pA1}{1450}{5332}{1951}{5440}{stadb, rounded corners=5.2mm, font=\fs{16}{19}}{进程A数据}
\mybox{pA2}{1450}{5463}{1951}{5571}{stadb, rounded corners=5.2mm, font=\fs{16}{19}}{进程A代码}
\mybox{soA}{1450}{5629}{1951}{5736}{stado, rounded corners=5.2mm, font=\fs{16}{19}}{xxx.so库}
\mybox{pB1}{1450}{5854}{1951}{5964}{stadb, rounded corners=5.3mm, font=\fs{16}{19}}{进程B数据}
\mybox{pB2}{1450}{6009}{1951}{6118}{stadb, rounded corners=5.3mm, font=\fs{16}{19}}{进程B代码}
\node[bigt] (dkAl) at (2368,5238) {磁盘};
\fill[grnbg] (2130,5289) -- (2130,6106) .. controls (2130,6122) and (2588,6122) .. (2588,6106) -- (2588,5289) -- cycle;
\draw[grnbd, line width=0.6pt] (2130,5289) -- (2130,6106) .. controls (2130,6122) and (2588,6122) .. (2588,6106) -- (2588,5289);
\draw[grnbd, line width=0.6pt, fill=grnbg] (2359,5289) ellipse [x radius=229, y radius=12];
\mybox{dkA}{2130}{5301}{2588}{6106}{}{}
\mybox{meA}{2130}{5380}{2585}{5489}{stado, rounded corners=5.2mm, font=\fs{15.5}{19}}{main.exe}
\mybox{dsA}{2130}{5629}{2585}{5738}{stado, rounded corners=5.2mm, font=\fs{15.5}{19}}{xxx.so库}
\node[bigt] (llA) at (2039,5474) {库加载};
\draw[redbg, line width=4.2mm, -{Triangle[length=8.3mm,width=7.7mm]}] ($(dkA.west)+(0,-153)$) -- ($(pmA.east)+(0,-147)$);
% connectors A
\draw[blc] (tsA.east) -- ++(47,0) |- ($(bAp.north)+(0,-30)$) -- (bAp.north);
\draw[blc] (bAs.east) -- ++(118,0) |- (qA2.north west);
\draw[blc] (bAc.east) -- ++(130,0) |- ($(qA3.west)+(0,-6)$);
\draw[blc] (bAd.east) -- ++(30,0) |- ($(qA4.west)+(0,-14)$);
\draw[blc] ($(qA3.east)+(0,-17)$) -- ++(26,0) |- (pA2.west);
\draw[blc] ($(qA4.east)+(0,1)$) -- ++(79,0) |- (pA1.west);
% connectors B
\draw[blc] (tsB.east) -- ++(43,0) |- ($(bBp.north)+(0,-31)$) -- (bBp.north);
\draw[blc] (bBs.east) -- ++(87,0) |- (qB5.west);
\draw[blc] (bBc.east) -- ++(71,0) |- ($(qB3.west)+(0,-19)$);
\draw[blc] (bBd.east) -- ++(16,0) |- ($(qB4.west)+(0,-15)$);
\draw[blc] ($(qB3.east)+(0,-17)$) -- ++(26,0) |- (pB2.west);
\draw[blc] ($(qB4.east)+(0,1)$) -- ++(79,0) -- ++(0,83) -- ++(232,0) |- (pB1.west);
\draw[blc] (qB5.east) |- (soA.west);
% final text
\node[body] (f1) at (757,6322) {今天我们如果是两个进程调用库的话 我们也只需要让进程B也建立动态库和共享库的映射即可};
\node[body, text=redtx] (f2) at (757,6381) {所以结论:动态库的本质就是系统层面把公共的部分抽取出来只保存一份 而静态链接则会出现重复代码};
\node[body, text=redtx] (f3) at (757,6441) {因为静态库是拷贝到.o文件中 就会在内存中加载多份! 所以动态库也叫共享库!};
\draw[lblue, line width=1.6pt] (0,6576) -- (2582,6576);
\draw[black, line width=0.5pt] (160,6607) -- (1394,6607);
\end{tikzpicture}
\end{document}
